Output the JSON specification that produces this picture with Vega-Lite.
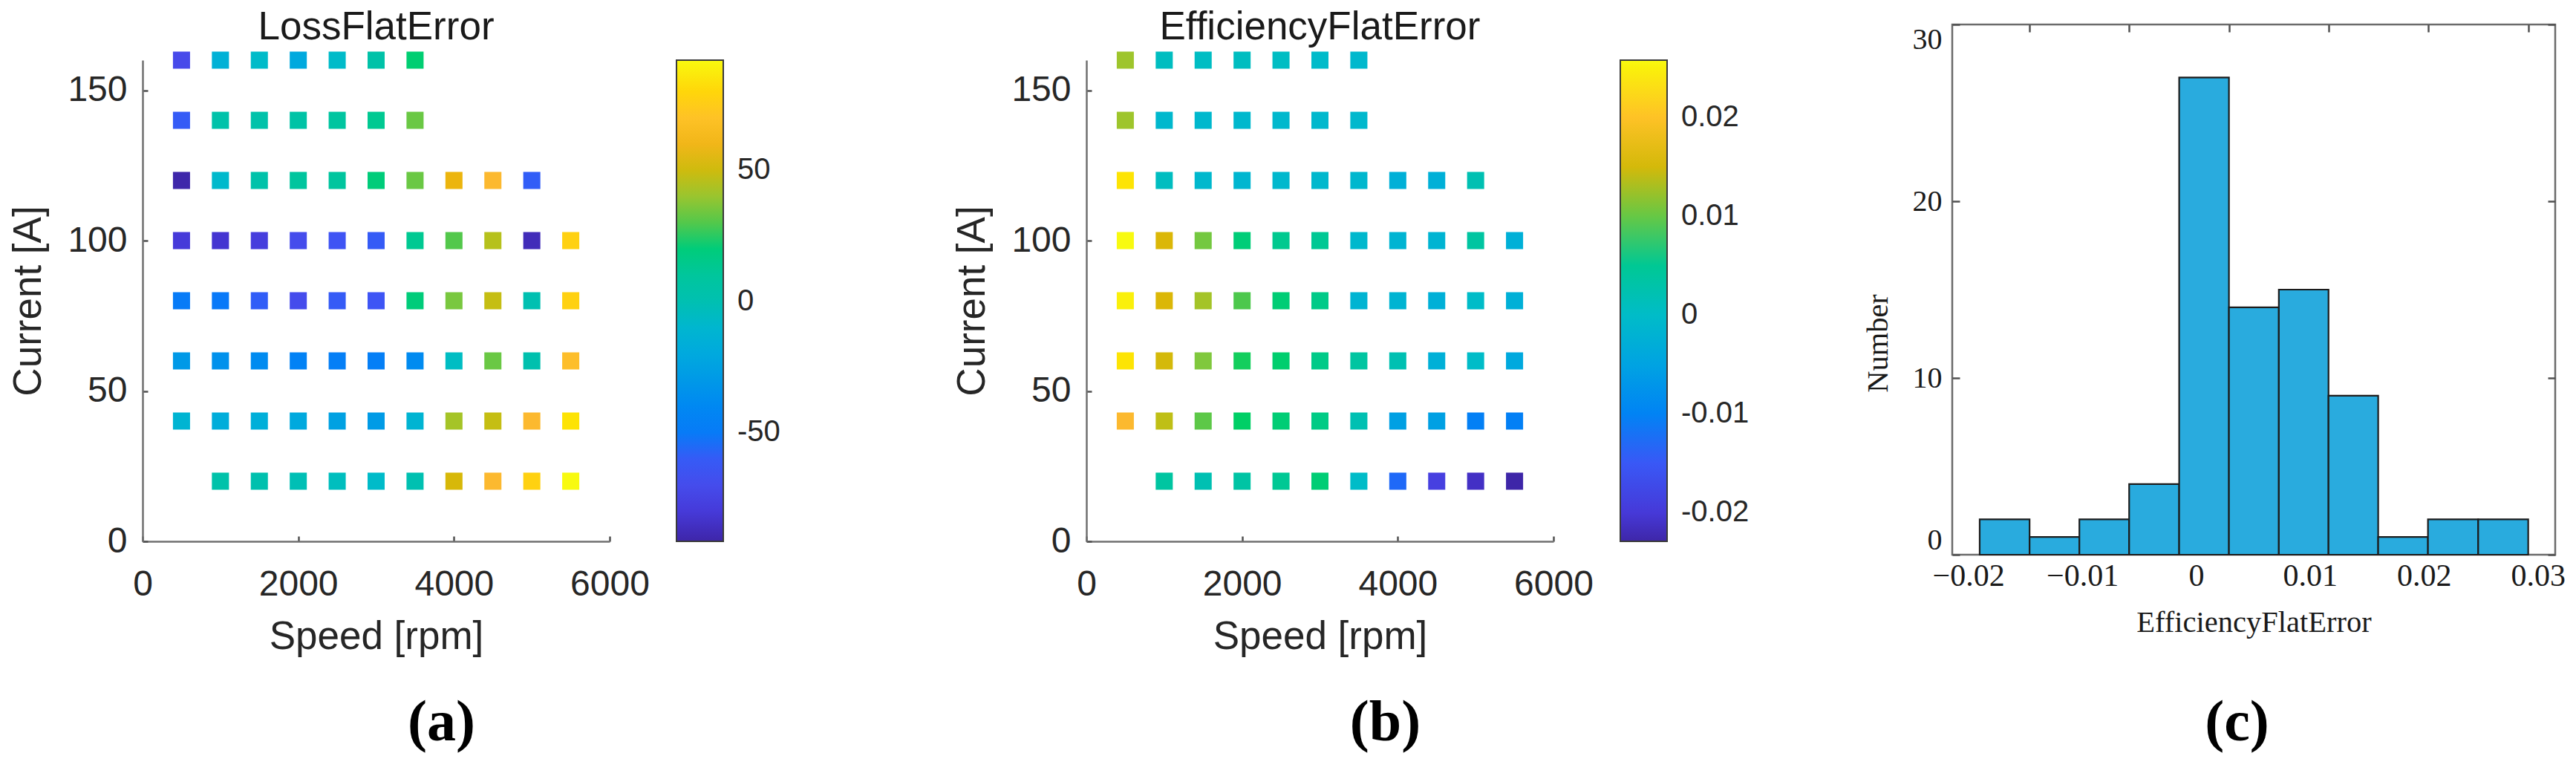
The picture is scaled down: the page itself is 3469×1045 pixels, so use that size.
{
  "$schema": "https://vega.github.io/schema/vega-lite/v6.json",
  "autosize": {"type": "pad"},
  "padding": {"left": 12, "top": 11, "right": 5, "bottom": 5},
  "background": "white",
  "config": {
    "view": {"stroke": null},
    "font": "Liberation Sans",
    "axis": {"grid": false, "labelColor": "#262626", "titleColor": "#262626", "domainColor": "#707070", "tickColor": "#505050", "domainWidth": 2.5, "tickWidth": 2.5, "titleFontWeight": "normal", "labelFlush": false, "labelOverlap": false},
    "legend": {"gradientVerticalMaxLength": 1000, "gradientVerticalMinLength": 10},
    "title": {"fontWeight": "normal"}
  },
  "bounds": "flush",
  "spacing": 0,
  "resolve": {"scale": {"color": "independent"}, "legend": {"color": "independent"}},
  "hconcat": [
    {
      "width": 629, "height": 714,
      "title": {"text": "LossFlatError", "font": "Liberation Sans", "fontSize": 53, "fontWeight": "normal", "color": "#1a1a1a", "anchor": "middle", "offset": -31},
      "data": {"values": [
        {"speed": 500, "current": 160, "loss": -72}, {"speed": 1000, "current": 160, "loss": -14}, {"speed": 1500, "current": 160, "loss": -6}, {"speed": 2000, "current": 160, "loss": -20}, {"speed": 2500, "current": 160, "loss": -6}, {"speed": 3000, "current": 160, "loss": 4}, {"speed": 3500, "current": 160, "loss": 22},
        {"speed": 500, "current": 140, "loss": -60}, {"speed": 1000, "current": 140, "loss": 3}, {"speed": 1500, "current": 140, "loss": 3}, {"speed": 2000, "current": 140, "loss": 5}, {"speed": 2500, "current": 140, "loss": 8}, {"speed": 3000, "current": 140, "loss": 14}, {"speed": 3500, "current": 140, "loss": 33},
        {"speed": 500, "current": 120, "loss": -91}, {"speed": 1000, "current": 120, "loss": -8}, {"speed": 1500, "current": 120, "loss": 3}, {"speed": 2000, "current": 120, "loss": 9}, {"speed": 2500, "current": 120, "loss": 9}, {"speed": 3000, "current": 120, "loss": 20}, {"speed": 3500, "current": 120, "loss": 33}, {"speed": 4000, "current": 120, "loss": 58}, {"speed": 4500, "current": 120, "loss": 65}, {"speed": 5000, "current": 120, "loss": -58},
        {"speed": 500, "current": 100, "loss": -80}, {"speed": 1000, "current": 100, "loss": -83}, {"speed": 1500, "current": 100, "loss": -78}, {"speed": 2000, "current": 100, "loss": -70}, {"speed": 2500, "current": 100, "loss": -65}, {"speed": 3000, "current": 100, "loss": -60}, {"speed": 3500, "current": 100, "loss": 14}, {"speed": 4000, "current": 100, "loss": 30}, {"speed": 4500, "current": 100, "loss": 45}, {"speed": 5000, "current": 100, "loss": -88}, {"speed": 5500, "current": 100, "loss": 78},
        {"speed": 500, "current": 80, "loss": -50}, {"speed": 1000, "current": 80, "loss": -52}, {"speed": 1500, "current": 80, "loss": -58}, {"speed": 2000, "current": 80, "loss": -70}, {"speed": 2500, "current": 80, "loss": -60}, {"speed": 3000, "current": 80, "loss": -64}, {"speed": 3500, "current": 80, "loss": 20}, {"speed": 4000, "current": 80, "loss": 35}, {"speed": 4500, "current": 80, "loss": 48}, {"speed": 5000, "current": 80, "loss": 0}, {"speed": 5500, "current": 80, "loss": 78},
        {"speed": 500, "current": 60, "loss": -30}, {"speed": 1000, "current": 60, "loss": -35}, {"speed": 1500, "current": 60, "loss": -38}, {"speed": 2000, "current": 60, "loss": -44}, {"speed": 2500, "current": 60, "loss": -47}, {"speed": 3000, "current": 60, "loss": -47}, {"speed": 3500, "current": 60, "loss": -38}, {"speed": 4000, "current": 60, "loss": -4}, {"speed": 4500, "current": 60, "loss": 33}, {"speed": 5000, "current": 60, "loss": 1}, {"speed": 5500, "current": 60, "loss": 68},
        {"speed": 500, "current": 40, "loss": -12}, {"speed": 1000, "current": 40, "loss": -17}, {"speed": 1500, "current": 40, "loss": -16}, {"speed": 2000, "current": 40, "loss": -20}, {"speed": 2500, "current": 40, "loss": -25}, {"speed": 3000, "current": 40, "loss": -29}, {"speed": 3500, "current": 40, "loss": -12}, {"speed": 4000, "current": 40, "loss": 42}, {"speed": 4500, "current": 40, "loss": 48}, {"speed": 5000, "current": 40, "loss": 65}, {"speed": 5500, "current": 40, "loss": 85},
        {"speed": 1000, "current": 20, "loss": 3}, {"speed": 1500, "current": 20, "loss": 1}, {"speed": 2000, "current": 20, "loss": -1}, {"speed": 2500, "current": 20, "loss": -3}, {"speed": 3000, "current": 20, "loss": -6}, {"speed": 3500, "current": 20, "loss": 0}, {"speed": 4000, "current": 20, "loss": 52}, {"speed": 4500, "current": 20, "loss": 65}, {"speed": 5000, "current": 20, "loss": 78}, {"speed": 5500, "current": 20, "loss": 92}
      ]},
      "layer": [
        {
          "mark": {"type": "point", "shape": "square", "filled": true, "size": 530, "opacity": 1, "strokeWidth": 0},
          "encoding": {
            "x": {"field": "speed", "type": "quantitative", "scale": {"domain": [0, 6000], "nice": false, "zero": false},
                  "axis": {"values": [0, 2000, 4000, 6000], "format": "d", "title": "Speed [rpm]", "offset": -18, "tickSize": -7, "labelFontSize": 48, "labelPadding": 41, "titleFontSize": 53, "titlePadding": 20}},
            "y": {"field": "current", "type": "quantitative", "scale": {"domain": [0, 160], "range": [696, 48], "nice": false},
                  "axis": {"values": [0, 50, 100, 150], "title": "Current [A]", "tickSize": -7, "labelFontSize": 48, "labelPadding": 28, "titleFontSize": 53, "titlePadding": 25}},
            "color": {"field": "loss", "type": "quantitative",
                      "scale": {"interpolate": "rgb", "domain": [-91.5, -82.3, -73.15, -63.98, -54.8, -52.97, -41.96, -30.95, -18.1, -5.26, 0.25, 13.1, 25.94, 29.61, 36.95, 46.13, 55.3, 64.48, 73.65, 82.83, 92],
                                "range": ["#3E26A8", "#4535D4", "#4848E8", "#3E55F5", "#2A62F8", "#0A78F8", "#0084F4", "#0098E8", "#00ACDC", "#00BCC8", "#00C0B0", "#00C896", "#00D062", "#50C84C", "#88C83A", "#BCC018", "#E6B400", "#FCB830", "#FFC820", "#FFDC00", "#F8FA10"]},
                      "legend": {"title": null, "type": "gradient", "direction": "vertical", "orient": "right", "offset": 42, "padding": 48, "gradientLength": 648, "gradientThickness": 63, "gradientStrokeColor": "#3a3a3a", "gradientStrokeWidth": 2, "values": [-50, 0, 50], "labelExpr": "datum.value < 0 ? '-' + abs(datum.value) : '' + datum.value", "labelFontSize": 40, "labelFont": "Liberation Sans", "labelColor": "#262626", "labelOffset": 19, "labelOverlap": false}}
          }
        },
        {
          "mark": {"type": "point", "opacity": 0},
          "encoding": {
            "x": {"field": "speed", "type": "quantitative", "axis": {"orient": "bottom", "domain": false, "ticks": false, "labels": false, "title": "(a)", "titleFont": "Liberation Serif", "titleFontWeight": "bold", "titleFontSize": 78, "titleColor": "#000000", "titlePadding": 187, "titleX": 402}},
            "y": {"field": "current", "type": "quantitative"}
          }
        }
      ],
      "resolve": {"axis": {"x": "independent"}}
    },
    {"width": 642, "height": 714, "data": {"values": []}, "mark": "point"},
    {
      "width": 629, "height": 714,
      "title": {"text": "EfficiencyFlatError", "font": "Liberation Sans", "fontSize": 53, "fontWeight": "normal", "color": "#1a1a1a", "anchor": "middle", "offset": -31},
      "data": {"values": [
        {"speed": 500, "current": 160, "eff": 0.0122}, {"speed": 1000, "current": 160, "eff": 0.0005}, {"speed": 1500, "current": 160, "eff": 0.0003}, {"speed": 2000, "current": 160, "eff": 0.0005}, {"speed": 2500, "current": 160, "eff": 0.0003}, {"speed": 3000, "current": 160, "eff": -0.0003}, {"speed": 3500, "current": 160, "eff": -0.0008},
        {"speed": 500, "current": 140, "eff": 0.0122}, {"speed": 1000, "current": 140, "eff": -0.0008}, {"speed": 1500, "current": 140, "eff": -0.0008}, {"speed": 2000, "current": 140, "eff": -0.0008}, {"speed": 2500, "current": 140, "eff": -0.0008}, {"speed": 3000, "current": 140, "eff": -0.0008}, {"speed": 3500, "current": 140, "eff": -0.0008},
        {"speed": 500, "current": 120, "eff": 0.024}, {"speed": 1000, "current": 120, "eff": 0.0005}, {"speed": 1500, "current": 120, "eff": -0.0008}, {"speed": 2000, "current": 120, "eff": -0.0013}, {"speed": 2500, "current": 120, "eff": -0.0008}, {"speed": 3000, "current": 120, "eff": -0.0008}, {"speed": 3500, "current": 120, "eff": -0.001}, {"speed": 4000, "current": 120, "eff": -0.0025}, {"speed": 4500, "current": 120, "eff": -0.0025}, {"speed": 5000, "current": 120, "eff": 0.0013},
        {"speed": 500, "current": 100, "eff": 0.0258}, {"speed": 1000, "current": 100, "eff": 0.0154}, {"speed": 1500, "current": 100, "eff": 0.0105}, {"speed": 2000, "current": 100, "eff": 0.0068}, {"speed": 2500, "current": 100, "eff": 0.0053}, {"speed": 3000, "current": 100, "eff": 0.005}, {"speed": 3500, "current": 100, "eff": -0.0008}, {"speed": 4000, "current": 100, "eff": -0.0018}, {"speed": 4500, "current": 100, "eff": -0.0018}, {"speed": 5000, "current": 100, "eff": 0.0034}, {"speed": 5500, "current": 100, "eff": -0.0025},
        {"speed": 500, "current": 80, "eff": 0.025}, {"speed": 1000, "current": 80, "eff": 0.0154}, {"speed": 1500, "current": 80, "eff": 0.0125}, {"speed": 2000, "current": 80, "eff": 0.0092}, {"speed": 2500, "current": 80, "eff": 0.007}, {"speed": 3000, "current": 80, "eff": 0.0058}, {"speed": 3500, "current": 80, "eff": -0.0018}, {"speed": 4000, "current": 80, "eff": -0.0018}, {"speed": 4500, "current": 80, "eff": -0.0025}, {"speed": 5000, "current": 80, "eff": 0.0}, {"speed": 5500, "current": 80, "eff": -0.0025},
        {"speed": 500, "current": 60, "eff": 0.024}, {"speed": 1000, "current": 60, "eff": 0.015}, {"speed": 1500, "current": 60, "eff": 0.0109}, {"speed": 2000, "current": 60, "eff": 0.0085}, {"speed": 2500, "current": 60, "eff": 0.0075}, {"speed": 3000, "current": 60, "eff": 0.0058}, {"speed": 3500, "current": 60, "eff": 0.0034}, {"speed": 4000, "current": 60, "eff": 0.0013}, {"speed": 4500, "current": 60, "eff": -0.0025}, {"speed": 5000, "current": 60, "eff": 0.0}, {"speed": 5500, "current": 60, "eff": -0.004},
        {"speed": 500, "current": 40, "eff": 0.0186}, {"speed": 1000, "current": 40, "eff": 0.0138}, {"speed": 1500, "current": 40, "eff": 0.0097}, {"speed": 2000, "current": 40, "eff": 0.008}, {"speed": 2500, "current": 40, "eff": 0.007}, {"speed": 3000, "current": 40, "eff": 0.006}, {"speed": 3500, "current": 40, "eff": 0.0013}, {"speed": 4000, "current": 40, "eff": -0.0055}, {"speed": 4500, "current": 40, "eff": -0.0055}, {"speed": 5000, "current": 40, "eff": -0.0107}, {"speed": 5500, "current": 40, "eff": -0.0107},
        {"speed": 1000, "current": 20, "eff": 0.0034}, {"speed": 1500, "current": 20, "eff": 0.0013}, {"speed": 2000, "current": 20, "eff": 0.003}, {"speed": 2500, "current": 20, "eff": 0.005}, {"speed": 3000, "current": 20, "eff": 0.007}, {"speed": 3500, "current": 20, "eff": 0.0}, {"speed": 4000, "current": 20, "eff": -0.013}, {"speed": 4500, "current": 20, "eff": -0.019}, {"speed": 5000, "current": 20, "eff": -0.0213}, {"speed": 5500, "current": 20, "eff": -0.0229}
      ]},
      "layer": [
        {
          "mark": {"type": "point", "shape": "square", "filled": true, "size": 530, "opacity": 1, "strokeWidth": 0},
          "encoding": {
            "x": {"field": "speed", "type": "quantitative", "scale": {"domain": [0, 6000], "nice": false, "zero": false},
                  "axis": {"values": [0, 2000, 4000, 6000], "format": "d", "title": "Speed [rpm]", "offset": -18, "tickSize": -7, "labelFontSize": 48, "labelPadding": 41, "titleFontSize": 53, "titlePadding": 20}},
            "y": {"field": "current", "type": "quantitative", "scale": {"domain": [0, 160], "range": [696, 48], "nice": false},
                  "axis": {"values": [0, 50, 100, 150], "title": "Current [A]", "tickSize": -7, "labelFontSize": 48, "labelPadding": 28, "titleFontSize": 53, "titlePadding": 25}},
            "color": {"field": "eff", "type": "quantitative",
                      "scale": {"interpolate": "rgb", "domain": [-0.0229, -0.020465, -0.01803, -0.015595, -0.01316, -0.012673, -0.009751, -0.006829, -0.00342, -0.000011, 0.00145, 0.004859, 0.008268, 0.009242, 0.01119, 0.013625, 0.01606, 0.018495, 0.02093, 0.023365, 0.0258],
                                "range": ["#3E26A8", "#4535D4", "#4848E8", "#3E55F5", "#2A62F8", "#0A78F8", "#0084F4", "#0098E8", "#00ACDC", "#00BCC8", "#00C0B0", "#00C896", "#00D062", "#50C84C", "#88C83A", "#BCC018", "#E6B400", "#FCB830", "#FFC820", "#FFDC00", "#F8FA10"]},
                      "legend": {"title": null, "type": "gradient", "direction": "vertical", "orient": "right", "offset": 42, "padding": 48, "gradientLength": 648, "gradientThickness": 63, "gradientStrokeColor": "#3a3a3a", "gradientStrokeWidth": 2, "values": [-0.02, -0.01, 0, 0.01, 0.02], "labelExpr": "datum.value == 0 ? '0' : (datum.value < 0 ? '-' : '') + format(abs(datum.value), '.2f')", "labelFontSize": 40, "labelFont": "Liberation Sans", "labelColor": "#262626", "labelOffset": 19, "labelOverlap": false}}
          }
        },
        {
          "mark": {"type": "point", "opacity": 0},
          "encoding": {
            "x": {"field": "speed", "type": "quantitative", "axis": {"orient": "bottom", "domain": false, "ticks": false, "labels": false, "title": "(b)", "titleFont": "Liberation Serif", "titleFontWeight": "bold", "titleFontSize": 78, "titleColor": "#000000", "titlePadding": 187, "titleX": 402}},
            "y": {"field": "current", "type": "quantitative"}
          }
        }
      ],
      "resolve": {"axis": {"x": "independent"}}
    },
    {"width": 537, "height": 714, "data": {"values": []}, "mark": "point"},
    {
      "width": 812, "height": 714,
      "view": {"stroke": "#6b6b6b", "strokeWidth": 2.5},
      "data": {"values": [
        {"lo": -0.019, "hi": -0.01462, "n": 2},
        {"lo": -0.01462, "hi": -0.01025, "n": 1},
        {"lo": -0.01025, "hi": -0.00588, "n": 2},
        {"lo": -0.00588, "hi": -0.00149, "n": 4},
        {"lo": -0.00149, "hi": 0.00288, "n": 27},
        {"lo": 0.00288, "hi": 0.00726, "n": 14},
        {"lo": 0.00726, "hi": 0.01162, "n": 15},
        {"lo": 0.01162, "hi": 0.01598, "n": 9},
        {"lo": 0.01598, "hi": 0.02035, "n": 1},
        {"lo": 0.02035, "hi": 0.02476, "n": 2},
        {"lo": 0.02476, "hi": 0.02915, "n": 2}
      ]},
      "layer": [
        {
          "mark": {"type": "bar", "fill": "#29ABDE", "stroke": "#1c1c1c", "strokeWidth": 2.2, "opacity": 1},
          "encoding": {
            "x": {"field": "lo", "type": "quantitative", "scale": {"domain": [-0.02141, 0.03152], "nice": false, "zero": false},
                  "axis": {"values": [-0.02, -0.01, 0, 0.01, 0.02, 0.03], "format": ".2~f", "ticks": false, "domain": false, "labelFont": "Liberation Serif", "labelFontSize": 42, "labelColor": "#1a1a1a", "labelPadding": 8, "title": "EfficiencyFlatError", "titleFont": "Liberation Serif", "titleFontSize": 40.5, "titleColor": "#1a1a1a", "titlePadding": 22}},
            "x2": {"field": "hi"},
            "y": {"field": "n", "type": "quantitative", "scale": {"domain": [0, 30], "nice": false},
                  "axis": {"values": [0, 10, 20, 30], "tickSize": -10, "domain": false, "labelFlush": true, "labelFont": "Liberation Serif", "labelFontSize": 40, "labelColor": "#1a1a1a", "labelPadding": 24, "title": "Number", "titleFont": "Liberation Serif", "titleFontSize": 40.5, "titleColor": "#1a1a1a", "titlePadding": 25, "titleY": 429}},
            "y2": {"datum": 0}
          }
        },
        {
          "mark": {"type": "bar", "opacity": 0},
          "encoding": {
            "x": {"field": "lo", "type": "quantitative", "axis": {"orient": "top", "values": [-0.01462, -0.00588, 0.00288, 0.01162, 0.02035, 0.02915], "tickSize": -10, "labels": false, "domain": false, "title": null}},
            "x2": {"field": "hi"},
            "y": {"field": "n", "type": "quantitative", "axis": {"orient": "right", "values": [0, 10, 20, 30], "tickSize": -10, "labels": false, "domain": false, "title": null}},
            "y2": {"datum": 0}
          }
        },
        {
          "mark": {"type": "bar", "opacity": 0},
          "encoding": {
            "x": {"field": "lo", "type": "quantitative", "axis": {"orient": "bottom", "domain": false, "ticks": false, "labels": false, "title": "(c)", "titleFont": "Liberation Serif", "titleFontWeight": "bold", "titleFontSize": 78, "titleColor": "#000000", "titlePadding": 187, "titleX": 383}},
            "x2": {"field": "hi"},
            "y": {"field": "n", "type": "quantitative", "axis": null},
            "y2": {"datum": 0}
          }
        }
      ],
      "resolve": {"axis": {"x": "independent", "y": "independent"}}
    }
  ]
}
